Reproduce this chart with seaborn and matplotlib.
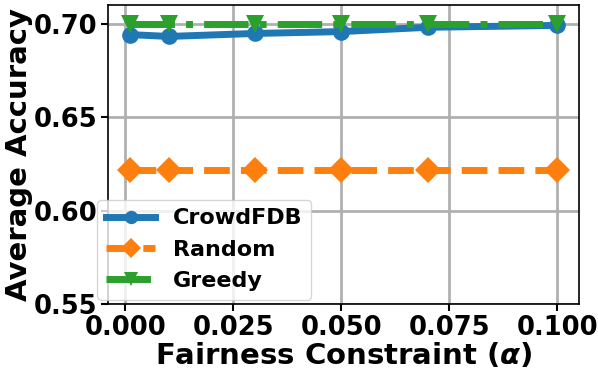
import matplotlib
matplotlib.use("Agg")
import matplotlib.pyplot as plt
import pandas as pd
import seaborn as sns

alphas = [0.001, 0.01, 0.03, 0.05, 0.07, 0.1]
crowdfdb = [0.6941, 0.6931, 0.6947, 0.6957, 0.6980, 0.6990]
random_acc = [0.6215, 0.6215, 0.6215, 0.6215, 0.6215, 0.6215]
greedy = [0.6995, 0.6995, 0.6995, 0.6995, 0.6995, 0.6995]

plt.rcParams['font.weight'] = 'bold'
plt.rcParams['axes.labelweight'] = 'bold'

fig, ax = plt.subplots(figsize=(5.98, 3.73), dpi=100)
ax.grid(True, color='#b0b0b0', linewidth=2)
ax.set_axisbelow(True)

sns.lineplot(x=alphas, y=crowdfdb, ax=ax, color='#1f77b4', linewidth=5,
             marker='o', markersize=12, markeredgewidth=0, label='CrowdFDB')
sns.lineplot(x=alphas, y=random_acc, ax=ax, color='#ff7f0e', linewidth=5,
             linestyle='--', marker='D', markersize=13, markeredgewidth=0, label='Random')
sns.lineplot(x=alphas, y=greedy, ax=ax, color='#2ca02c', linewidth=5,
             linestyle='-.', marker='v', markersize=13, markeredgewidth=0, label='Greedy')

ax.set_ylim(0.55, 0.71)
ax.set_yticks([0.55, 0.60, 0.65, 0.70])
ax.set_xticks([0.0, 0.025, 0.05, 0.075, 0.1])
ax.tick_params(labelsize=18.5, width=1.5, length=5, pad=3)
for lab in ax.get_xticklabels() + ax.get_yticklabels():
    lab.set_fontweight('bold')
ax.set_xlabel(r'Fairness Constraint ($\alpha$)', fontsize=21, fontweight='bold', labelpad=0)
ax.set_ylabel('Average Accuracy', fontsize=21, fontweight='bold', labelpad=0)
for s in ax.spines.values():
    s.set_color('black')
    s.set_linewidth(1.2)

ax.legend(loc='lower left', bbox_to_anchor=(-0.023, 0.015), borderaxespad=0,
          prop={'weight': 'bold', 'size': 16}, handlelength=2.2, markerscale=0.8)

plt.subplots_adjust(left=0.181, right=0.968, top=0.987, bottom=0.185)
plt.savefig('out.png', dpi=100)
